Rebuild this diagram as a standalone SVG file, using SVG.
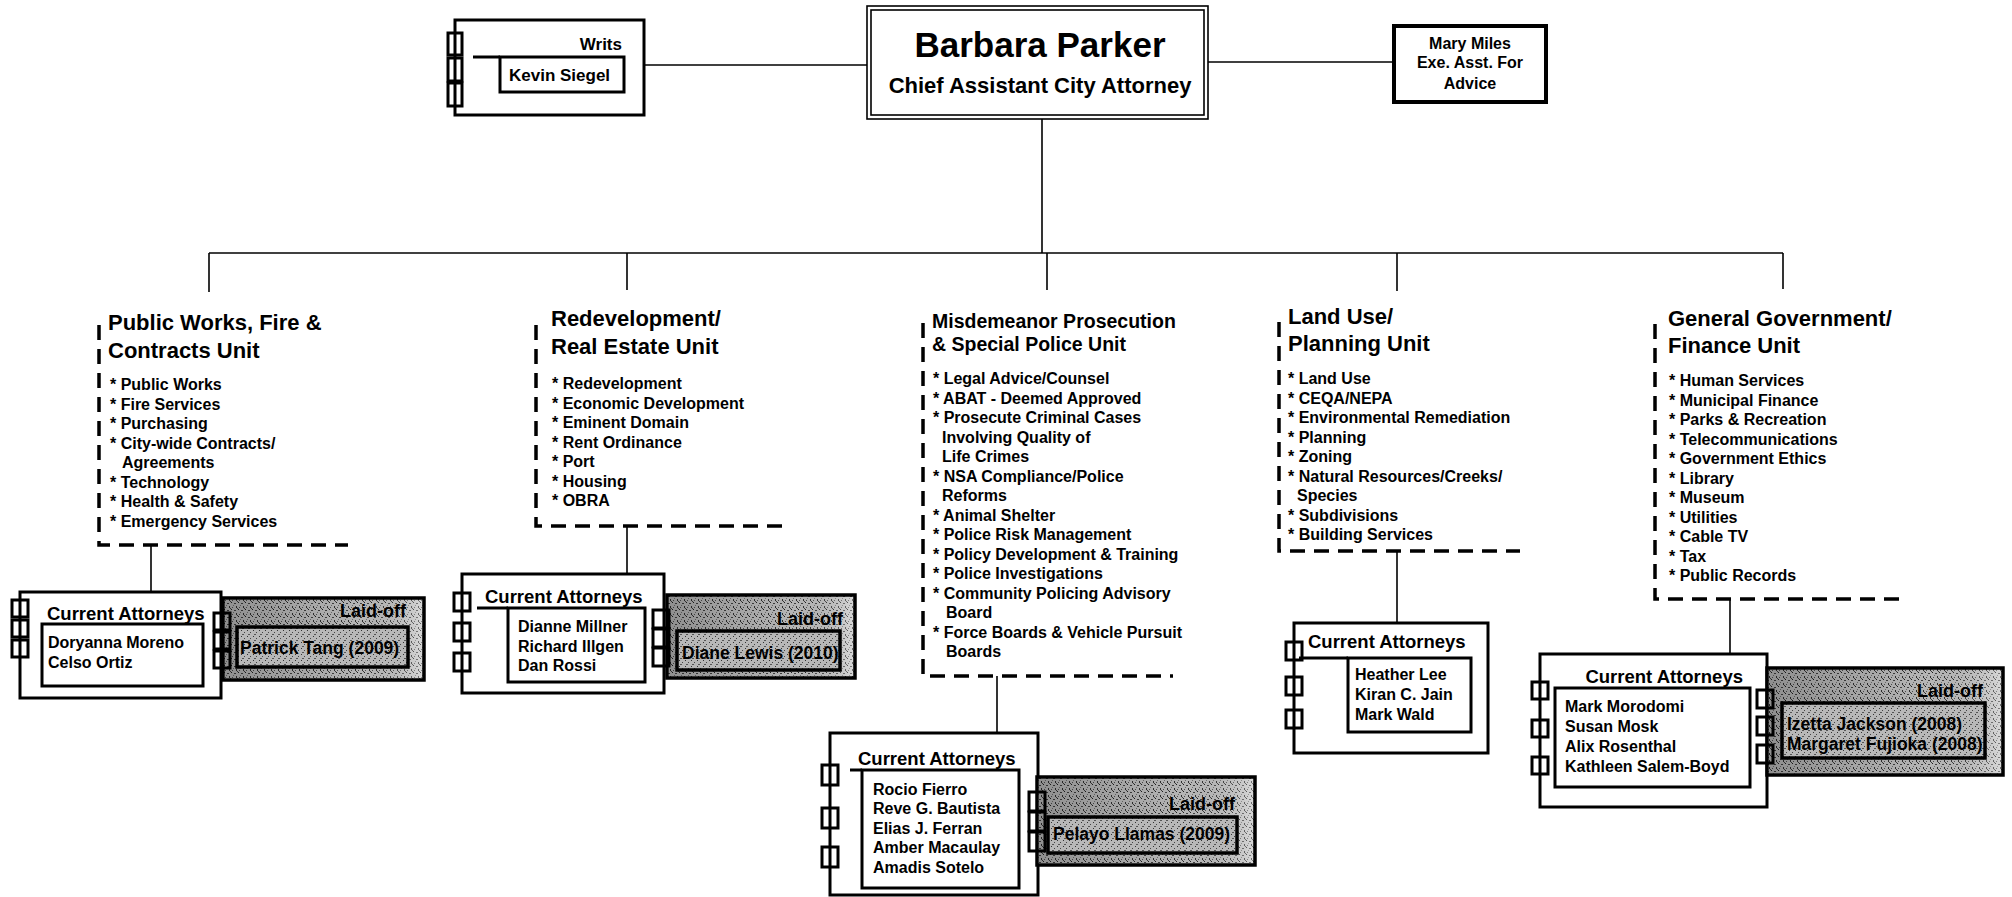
<svg xmlns="http://www.w3.org/2000/svg" width="2012" height="897" viewBox="0 0 2012 897">
<style>
.t{font-family:"Liberation Sans",Arial,Helvetica,sans-serif;font-weight:bold;fill:#000}
.box{fill:#fff;stroke:#000;stroke-width:3}
.thin{fill:#fff;stroke:#000;stroke-width:1.6}
.notch{fill:none;stroke:#000;stroke-width:3}
.conn{stroke:#000;stroke-width:1.6;fill:none}
.dash{stroke:#000;stroke-width:3.5;fill:none;stroke-dasharray:15 9}
.lo{fill:url(#speck);stroke:#000;stroke-width:3.5}
.shade{fill:url(#fade);stroke:none}
.loi{fill:url(#speck2);stroke:#000;stroke-width:3.5}
.ttl{font-size:22px}
.ttl3{font-size:19.5px}
.it{font-size:16px}
.hdr{font-size:18.5px}
.nm{font-size:16px}
.lon{font-size:17.5px}
.lof{font-size:18px}
</style>
<defs>
<pattern id="speck" width="7" height="7" patternUnits="userSpaceOnUse">
<rect width="7" height="7" fill="#c6c6c6"/>
<rect x="0" y="0" width="1" height="1" fill="#222"/>
<rect x="3" y="1" width="2" height="1" fill="#444"/>
<rect x="5" y="4" width="1" height="2" fill="#333"/>
<rect x="1" y="5" width="1" height="1" fill="#555"/>
<rect x="2" y="3" width="1" height="1" fill="#777"/>
<rect x="6" y="6" width="1" height="1" fill="#444"/>
</pattern>
<pattern id="speck2" width="6" height="6" patternUnits="userSpaceOnUse">
<rect width="6" height="6" fill="#b8b8b8"/>
<rect x="1" y="0" width="1" height="1" fill="#333"/>
<rect x="4" y="2" width="1" height="1" fill="#444"/>
<rect x="2" y="4" width="2" height="1" fill="#555"/>
</pattern>
<linearGradient id="fade" x1="0" y1="0" x2="1" y2="0">
<stop offset="0" stop-color="#000" stop-opacity="0.28"/>
<stop offset="0.7" stop-color="#000" stop-opacity="0.08"/>
<stop offset="1" stop-color="#fff" stop-opacity="0.3"/>
</linearGradient>
</defs>
<rect width="2012" height="897" fill="#fff"/>

<g id="connectors">
<line class="conn" x1="644" y1="65" x2="867" y2="65"/>
<line class="conn" x1="1208" y1="62" x2="1394" y2="62"/>
<line class="conn" x1="1042" y1="119" x2="1042" y2="253"/>
<line class="conn" x1="209" y1="253" x2="1783" y2="253"/>
<line class="conn" x1="209" y1="253" x2="209" y2="292"/>
<line class="conn" x1="627" y1="253" x2="627" y2="290"/>
<line class="conn" x1="1047" y1="253" x2="1047" y2="290"/>
<line class="conn" x1="1397" y1="253" x2="1397" y2="291"/>
<line class="conn" x1="1783" y1="253" x2="1783" y2="289"/>
<line class="conn" x1="151" y1="545" x2="151" y2="592"/>
<line class="conn" x1="627" y1="526" x2="627" y2="574"/>
<line class="conn" x1="997" y1="676" x2="997" y2="733"/>
<line class="conn" x1="1397" y1="551" x2="1397" y2="623"/>
<line class="conn" x1="1730" y1="599" x2="1730" y2="654"/>
</g>

<g id="writs">
<rect class="box" x="455" y="20" width="189" height="95"/>
<rect class="notch" x="448" y="33" width="14" height="22"/>
<rect class="notch" x="448" y="58" width="14" height="23"/>
<rect class="notch" x="448" y="83" width="14" height="23"/>
<text class="t" x="622" y="50" font-size="17" text-anchor="end">Writs</text>
<line x1="473" y1="57" x2="500" y2="57" stroke="#000" stroke-width="3"/>
<rect class="box" x="500" y="57" width="124" height="35"/>
<text class="t" x="509" y="81" font-size="17">Kevin Siegel</text>
</g>

<g id="barbara">
<rect class="thin" x="867" y="6" width="341" height="113"/>
<rect class="thin" x="871" y="10" width="333" height="105"/>
<text class="t" x="1040" y="57" font-size="35" text-anchor="middle">Barbara Parker</text>
<text class="t" x="1040" y="93" font-size="22" text-anchor="middle">Chief Assistant City Attorney</text>
</g>

<g id="mary">
<rect x="1394" y="26" width="152" height="76" fill="#fff" stroke="#000" stroke-width="4"/>
<text class="t" x="1470" y="49" font-size="16" text-anchor="middle">Mary Miles</text>
<text class="t" x="1470" y="68" font-size="16" text-anchor="middle">Exe. Asst. For</text>
<text class="t" x="1470" y="89" font-size="16" text-anchor="middle">Advice</text>
</g>

<g id="unit-public-works">
<path class="dash" d="M99,325 V545 H348"/>
<text class="t ttl" x="108" y="330">Public Works, Fire &amp;</text>
<text class="t ttl" x="108" y="358">Contracts Unit</text>
<text class="t it" x="110" y="390">* Public Works</text>
<text class="t it" x="110" y="409.5">* Fire Services</text>
<text class="t it" x="110" y="429">* Purchasing</text>
<text class="t it" x="110" y="448.5">* City-wide Contracts/</text>
<text class="t it" x="122" y="468">Agreements</text>
<text class="t it" x="110" y="487.5">* Technology</text>
<text class="t it" x="110" y="507">* Health &amp; Safety</text>
<text class="t it" x="110" y="526.5">* Emergency Services</text>
</g>

<g id="unit-redevelopment">
<path class="dash" d="M536,325 V526 H785"/>
<text class="t ttl" x="551" y="326">Redevelopment/</text>
<text class="t ttl" x="551" y="354">Real Estate Unit</text>
<text class="t it" x="552" y="389">* Redevelopment</text>
<text class="t it" x="552" y="408.5">* Economic Development</text>
<text class="t it" x="552" y="428">* Eminent Domain</text>
<text class="t it" x="552" y="447.5">* Rent Ordinance</text>
<text class="t it" x="552" y="467">* Port</text>
<text class="t it" x="552" y="486.5">* Housing</text>
<text class="t it" x="552" y="506">* OBRA</text>
</g>

<g id="unit-misdemeanor">
<path class="dash" d="M923,323 V676 H1173"/>
<text class="t ttl3" x="932" y="328">Misdemeanor Prosecution</text>
<text class="t ttl3" x="932" y="351">&amp; Special Police Unit</text>
<text class="t it" x="933" y="384">* Legal Advice/Counsel</text>
<text class="t it" x="933" y="403.5">* ABAT - Deemed Approved</text>
<text class="t it" x="933" y="423">* Prosecute Criminal Cases</text>
<text class="t it" x="942" y="442.5">Involving Quality of</text>
<text class="t it" x="942" y="462">Life Crimes</text>
<text class="t it" x="933" y="481.5">* NSA Compliance/Police</text>
<text class="t it" x="942" y="501">Reforms</text>
<text class="t it" x="933" y="520.5">* Animal Shelter</text>
<text class="t it" x="933" y="540">* Police Risk Management</text>
<text class="t it" x="933" y="559.5">* Policy Development &amp; Training</text>
<text class="t it" x="933" y="579">* Police Investigations</text>
<text class="t it" x="933" y="598.5">* Community Policing Advisory</text>
<text class="t it" x="946" y="618">Board</text>
<text class="t it" x="933" y="637.5">* Force Boards &amp; Vehicle Pursuit</text>
<text class="t it" x="946" y="657">Boards</text>
</g>

<g id="unit-land-use">
<path class="dash" d="M1279,322 V551 H1520"/>
<text class="t ttl" x="1288" y="324">Land Use/</text>
<text class="t ttl" x="1288" y="351">Planning Unit</text>
<text class="t it" x="1288" y="384">* Land Use</text>
<text class="t it" x="1288" y="403.5">* CEQA/NEPA</text>
<text class="t it" x="1288" y="423">* Environmental Remediation</text>
<text class="t it" x="1288" y="442.5">* Planning</text>
<text class="t it" x="1288" y="462">* Zoning</text>
<text class="t it" x="1288" y="481.5">* Natural Resources/Creeks/</text>
<text class="t it" x="1297" y="501">Species</text>
<text class="t it" x="1288" y="520.5">* Subdivisions</text>
<text class="t it" x="1288" y="540">* Building Services</text>
</g>

<g id="unit-general-government">
<path class="dash" d="M1655,324 V599 H1903"/>
<text class="t ttl" x="1668" y="326">General Government/</text>
<text class="t ttl" x="1668" y="353">Finance Unit</text>
<text class="t it" x="1669" y="386">* Human Services</text>
<text class="t it" x="1669" y="405.5">* Municipal Finance</text>
<text class="t it" x="1669" y="425">* Parks &amp; Recreation</text>
<text class="t it" x="1669" y="444.5">* Telecommunications</text>
<text class="t it" x="1669" y="464">* Government Ethics</text>
<text class="t it" x="1669" y="483.5">* Library</text>
<text class="t it" x="1669" y="503">* Museum</text>
<text class="t it" x="1669" y="522.5">* Utilities</text>
<text class="t it" x="1669" y="542">* Cable TV</text>
<text class="t it" x="1669" y="561.5">* Tax</text>
<text class="t it" x="1669" y="581">* Public Records</text>
</g>

<g id="attorneys-public-works">
<rect class="box" x="20" y="592" width="201" height="106"/>
<rect class="notch" x="12" y="600" width="16" height="17"/>
<rect class="notch" x="12" y="620" width="16" height="17"/>
<rect class="notch" x="12" y="640" width="16" height="17"/>
<text class="t hdr" x="47" y="620">Current Attorneys</text>
<rect class="box" x="42" y="624" width="161" height="62"/>
<text class="t nm" x="48" y="648">Doryanna Moreno</text>
<text class="t nm" x="48" y="668">Celso Ortiz</text>
</g>
<g id="laidoff-public-works">
<rect class="lo" x="223" y="598" width="201" height="82"/>
<rect class="shade" x="225" y="600" width="197" height="78"/>
<rect class="notch" x="214" y="613" width="16" height="17"/>
<rect class="notch" x="214" y="632" width="16" height="17"/>
<rect class="notch" x="214" y="651" width="16" height="17"/>
<text class="t lof" x="406" y="617" text-anchor="end">Laid-off</text>
<rect class="loi" x="237" y="627" width="171" height="40"/>
<text class="t lon" x="240" y="654">Patrick Tang (2009)</text>
</g>

<g id="attorneys-redevelopment">
<rect class="box" x="462" y="574" width="202" height="119"/>
<rect class="notch" x="454" y="593" width="16" height="18"/>
<rect class="notch" x="454" y="623" width="16" height="18"/>
<rect class="notch" x="454" y="653" width="16" height="18"/>
<text class="t hdr" x="485" y="603">Current Attorneys</text>
<line x1="477" y1="608" x2="508" y2="608" stroke="#000" stroke-width="3"/>
<rect class="box" x="508" y="608" width="137" height="74"/>
<text class="t nm" x="518" y="632">Dianne Millner</text>
<text class="t nm" x="518" y="652">Richard Illgen</text>
<text class="t nm" x="518" y="671">Dan Rossi</text>
</g>
<g id="laidoff-redevelopment">
<rect class="lo" x="667" y="595" width="188" height="83"/>
<rect class="shade" x="669" y="597" width="184" height="79"/>
<rect class="notch" x="653" y="610" width="16" height="18"/>
<rect class="notch" x="653" y="629" width="16" height="18"/>
<rect class="notch" x="653" y="648" width="16" height="18"/>
<text class="t lof" x="843" y="625" text-anchor="end">Laid-off</text>
<rect class="loi" x="677" y="631" width="163" height="39"/>
<text class="t lon" x="682" y="659">Diane Lewis (2010)</text>
</g>

<g id="attorneys-misdemeanor">
<rect class="box" x="830" y="733" width="208" height="162"/>
<rect class="notch" x="822" y="765" width="16" height="20"/>
<rect class="notch" x="822" y="808" width="16" height="20"/>
<rect class="notch" x="822" y="847" width="16" height="20"/>
<text class="t hdr" x="858" y="765">Current Attorneys</text>
<line x1="850" y1="770" x2="862" y2="770" stroke="#000" stroke-width="3"/>
<rect class="box" x="862" y="770" width="157" height="118"/>
<text class="t nm" x="873" y="795">Rocio Fierro</text>
<text class="t nm" x="873" y="814">Reve G. Bautista</text>
<text class="t nm" x="873" y="834">Elias J. Ferran</text>
<text class="t nm" x="873" y="853">Amber Macaulay</text>
<text class="t nm" x="873" y="873">Amadis Sotelo</text>
</g>
<g id="laidoff-misdemeanor">
<rect class="lo" x="1037" y="777" width="218" height="88"/>
<rect class="shade" x="1039" y="779" width="214" height="84"/>
<rect class="notch" x="1029" y="792" width="16" height="19"/>
<rect class="notch" x="1029" y="812" width="16" height="19"/>
<rect class="notch" x="1029" y="832" width="16" height="19"/>
<text class="t lof" x="1235" y="810" text-anchor="end">Laid-off</text>
<rect class="loi" x="1048" y="817" width="189" height="36"/>
<text class="t lon" x="1053" y="840">Pelayo Llamas (2009)</text>
</g>

<g id="attorneys-land-use">
<rect class="box" x="1294" y="623" width="194" height="130"/>
<rect class="notch" x="1286" y="642" width="16" height="18"/>
<rect class="notch" x="1286" y="677" width="16" height="18"/>
<rect class="notch" x="1286" y="710" width="16" height="18"/>
<text class="t hdr" x="1308" y="648">Current Attorneys</text>
<line x1="1299" y1="658" x2="1348" y2="658" stroke="#000" stroke-width="3"/>
<rect class="box" x="1348" y="658" width="123" height="74"/>
<text class="t nm" x="1355" y="680">Heather Lee</text>
<text class="t nm" x="1355" y="700">Kiran C. Jain</text>
<text class="t nm" x="1355" y="720">Mark Wald</text>
</g>

<g id="attorneys-general-government">
<rect class="box" x="1540" y="654" width="227" height="153"/>
<rect class="notch" x="1532" y="682" width="16" height="17"/>
<rect class="notch" x="1532" y="720" width="16" height="17"/>
<rect class="notch" x="1532" y="757" width="16" height="17"/>
<text class="t hdr" x="1743" y="683" text-anchor="end">Current Attorneys</text>
<rect class="box" x="1555" y="688" width="195" height="99"/>
<text class="t nm" x="1565" y="712">Mark Morodomi</text>
<text class="t nm" x="1565" y="732">Susan Mosk</text>
<text class="t nm" x="1565" y="752">Alix Rosenthal</text>
<text class="t nm" x="1565" y="772">Kathleen Salem-Boyd</text>
</g>
<g id="laidoff-general-government">
<rect class="lo" x="1767" y="668" width="236" height="107"/>
<rect class="shade" x="1769" y="670" width="232" height="103"/>
<rect class="notch" x="1757" y="690" width="16" height="18"/>
<rect class="notch" x="1757" y="717" width="16" height="18"/>
<rect class="notch" x="1757" y="745" width="16" height="18"/>
<text class="t lof" x="1983" y="697" text-anchor="end">Laid-off</text>
<rect class="loi" x="1782" y="703" width="203" height="55"/>
<text class="t lon" x="1787" y="730">Izetta Jackson (2008)</text>
<text class="t lon" x="1787" y="750">Margaret Fujioka (2008)</text>
</g>
</svg>
